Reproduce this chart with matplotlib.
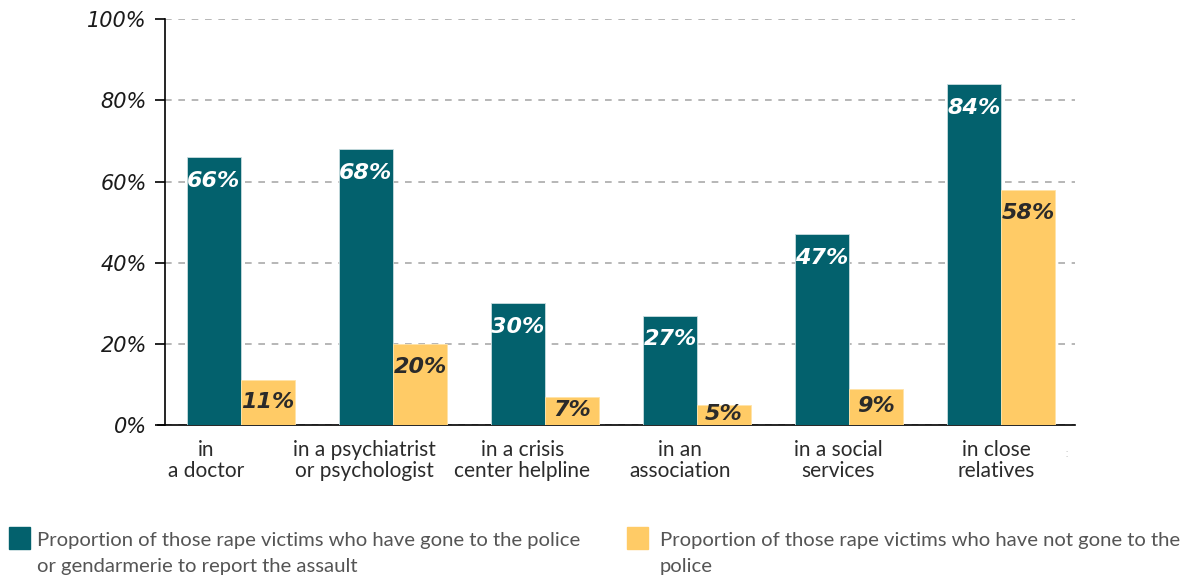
import numpy as np
import matplotlib
matplotlib.use("Agg")
from matplotlib import pyplot as plt
from matplotlib.patches import Rectangle

# data
categories = ["in\na doctor", "in a psychiatrist\nor psychologist",
              "in a crisis\ncenter helpline", "in an\nassociation",
              "in a social\nservices", "in close\nrelatives"]
reported = [66, 68, 30, 27, 47, 84]
not_reported = [11, 20, 7, 5, 9, 58]
yticks = [0, 20, 40, 60, 80, 100]
legend_labels = ["Proportion of those rape victims who have gone to the police\n"
                 "or gendarmerie to report the assault",
                 "Proportion of those rape victims who have not gone to the\n"
                 "police"]

TEAL = "#03616d"
YELLOW = "#ffcb66"
LABEL_FONT = ["Lato", "DejaVu Sans"]
W, H = 1187, 580

fig = plt.figure(figsize=(W / 100, H / 100), dpi=100)
ax = fig.add_axes([0.139, 0.267, 0.767, 0.700])

x = np.arange(len(categories))
w = 0.355
bars1 = ax.bar(x - w/2, reported, w, color=TEAL, edgecolor="#c9dde0",
               linewidth=0.6, zorder=3)
bars2 = ax.bar(x + w/2, not_reported, w, color=YELLOW, edgecolor="#ffe3a8",
               linewidth=0.6, zorder=3)

def label(bars, vals, color):
    for b, v in zip(bars, vals):
        y = max(v - 5.8, v / 2 + 0.3)
        ax.text(b.get_x() + b.get_width()/2, y, f"{v}%", ha="center",
                va="center", color=color, fontsize=16, fontweight="bold",
                fontstyle="italic", zorder=4)

label(bars1, reported, "white")
label(bars2, not_reported, "#2a2a2a")

ax.set_xlim(-0.5, 5.49)
ax.set_ylim(0, 100)
ax.set_yticks(yticks)
ax.set_yticklabels([f"{t}%" for t in yticks], fontsize=15, fontstyle="italic",
                   color="#1a1a1a")
ax.tick_params(axis="y", length=7, width=1.2, pad=6)
ax.yaxis.grid(True, color="#aaaaaa", linestyle=(0, (4, 4)), linewidth=1.2,
              zorder=0)
ax.set_axisbelow(True)
for s in ["top", "right"]:
    ax.spines[s].set_visible(False)
ax.spines["left"].set_linewidth(1.2)
ax.spines["bottom"].set_linewidth(1.2)
ax.spines["bottom"].set_bounds(-0.545, 5.49)
ax.spines["bottom"].set_clip_on(False)

# category labels sit on a slightly wider spacing than the groups
ax.set_xticks([])
label_pos = -0.23 + 1.04 * x
for p, c in zip(label_pos, categories):
    ax.text(p, -3.6, c, ha="center", va="top", fontsize=15,
            family=LABEL_FONT, color="#2b2b2b", linespacing=1.08)
ax.text(5.43, -5.5, ":", ha="center", va="top", fontsize=9,
        color="#cccccc")

# legend drawn by hand: square aligned with the first text line
for (sx, tx), col, txt in zip([(9, 37), (627, 660)], [TEAL, YELLOW],
                              legend_labels):
    fig.patches.append(Rectangle((sx / W, 1 - 549 / H), 21 / W, 22 / H,
                                 transform=fig.transFigure, color=col))
    fig.text(tx / W, 1 - 532 / H, txt, ha="left", va="top",
             family=LABEL_FONT, fontsize=14.6, color="#555555",
             linespacing=1.65)

fig.savefig("out.png", dpi=100)
